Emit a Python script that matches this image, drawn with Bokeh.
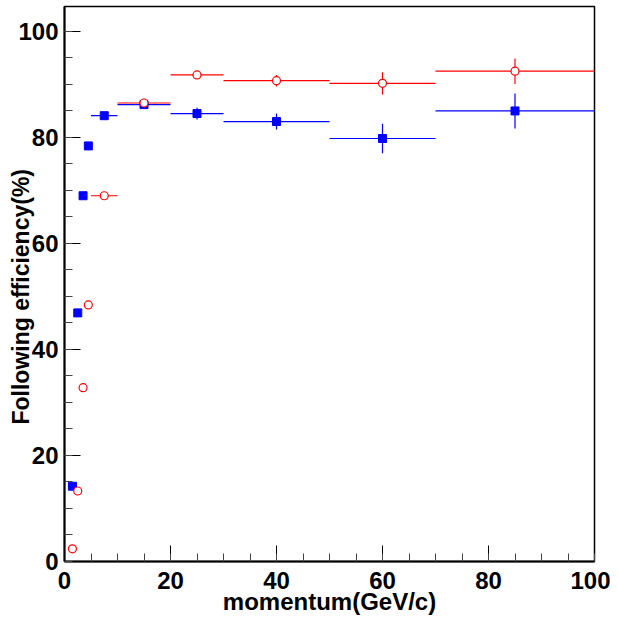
from bokeh.plotting import figure
from bokeh.models import SingleIntervalTicker, Range1d, ColumnDataSource
from bokeh.embed import file_html
from bokeh.resources import INLINE

# bins (momentum, GeV/c)
x_center = [1.5, 2.5, 3.5, 4.5, 7.5, 15, 25, 40, 60, 85]
x_half = [0.5, 0.5, 0.5, 0.5, 2.5, 5, 5, 10, 10, 15]

blue_y = [14.2, 46.9, 69.0, 78.4, 84.1, 86.2, 84.5, 83.0, 79.8, 85.0]
blue_err = [0.5, 0.7, 0.7, 0.6, 0.5, 0.5, 1.1, 1.5, 2.8, 3.3]

red_y = [2.4, 13.3, 32.8, 48.4, 69.0, 86.5, 91.8, 90.7, 90.2, 92.5]
red_err = [0.4, 0.6, 0.8, 0.7, 0.5, 0.4, 0.5, 1.1, 2.1, 2.4]

# first bin [0,1] of blue series sits at 0 (only its bar is visible)
blue0_x = [0.5]
blue0_half = [0.5]
blue0_y = [0.0]

x_title = "momentum(GeV/c)"
y_title = "Following efficiency(%)"

FONT = "Liberation Sans"

p = figure(width=610, height=618, output_backend="svg", toolbar_location=None,
           x_range=Range1d(0, 100), y_range=Range1d(0, 104.7),
           min_border_left=64, min_border_right=16, min_border_top=6,
           min_border_bottom=57)
p.grid.visible = False
p.outline_line_color = "black"
p.outline_line_width = 1.5
p.background_fill_color = "white"
p.border_fill_color = "white"

for ax in (p.xaxis[0], p.yaxis[0]):
    ax.ticker = SingleIntervalTicker(interval=20, num_minor_ticks=4)
    ax.major_tick_in = 16
    ax.major_tick_out = 0
    ax.minor_tick_in = 8
    ax.minor_tick_out = 0
    ax.major_tick_line_color = "black"
    ax.minor_tick_line_color = "#444444"
    ax.axis_line_color = "black"
    ax.axis_line_width = 2
    ax.major_label_text_font = FONT
    ax.major_label_text_font_style = "bold"
    ax.major_label_text_font_size = "24px"
    ax.major_label_text_color = "black"
    ax.axis_label_text_font = FONT
    ax.axis_label_text_font_style = "bold"
    ax.axis_label_text_color = "black"

p.xaxis.major_label_standoff = 10
p.yaxis.major_label_standoff = 6
p.xaxis.axis_label = x_title
p.xaxis.axis_label_text_font_size = "24px"
p.xaxis.axis_label_standoff = -4
p.yaxis.axis_label = y_title + "\u00a0" * 4
p.yaxis.axis_label_text_font_size = "23px"
p.yaxis.axis_label_standoff = -19


def errbars(xc, xh, y, ye, color):
    src = ColumnDataSource(dict(
        x0=[a - b for a, b in zip(xc, xh)], x1=[a + b for a, b in zip(xc, xh)],
        xc=xc, y=y, y0=[a - b for a, b in zip(y, ye)], y1=[a + b for a, b in zip(y, ye)]))
    p.segment(x0="x0", y0="y", x1="x1", y1="y", source=src, line_color=color, line_width=1.2)
    p.segment(x0="xc", y0="y0", x1="xc", y1="y1", source=src, line_color=color, line_width=1.2)
    return src


errbars(blue0_x, blue0_half, blue0_y, [0.0], "#0000ff")
bsrc = errbars(x_center, x_half, blue_y, blue_err, "#0000ff")
rsrc = errbars(x_center, x_half, red_y, red_err, "#ff0000")

p.scatter(x="xc", y="y", source=bsrc, marker="square", size=8,
          fill_color="#0000ff", line_color="#0000ff")
p.scatter(x="xc", y="y", source=rsrc, marker="circle", size=8,
          fill_color="white", line_color="#ff0000", line_width=1.2)

open("out.html", "w").write(file_html(p, INLINE))
